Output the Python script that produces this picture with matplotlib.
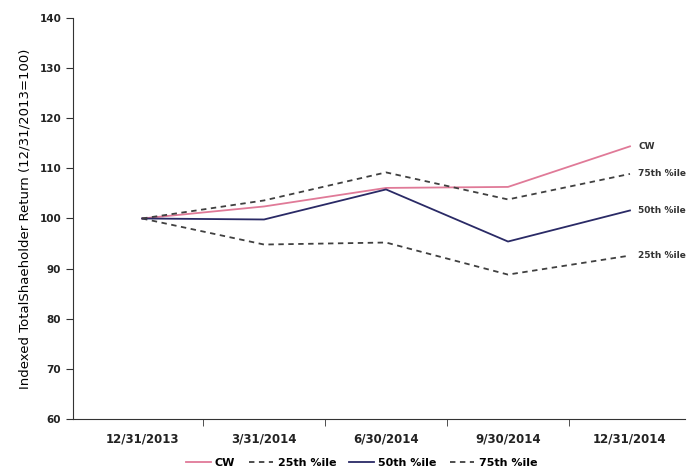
import matplotlib.pyplot as plt
import numpy as np

dates = ["12/31/2013", "3/31/2014", "6/30/2014", "9/30/2014", "12/31/2014"]
cw = [100, 102.4, 106.1, 106.3, 114.4]
p25 = [100, 94.8, 95.2, 88.8, 92.6]
p50 = [100, 99.8, 105.8, 95.4, 101.6]
p75 = [100, 103.6, 109.2, 103.8, 108.9]
end_labels = ["CW", "75th %ile", "50th %ile", "25th %ile"]

fig = plt.figure(figsize=(6.89, 4.76), dpi=100)
ax = fig.add_axes([0.106, 0.12, 0.888, 0.842])

x = np.arange(len(dates))
ax.plot(x, cw, color="#e07a98", lw=1.3, label="CW")
ax.plot(x, p25, color="#404040", lw=1.3, ls=(0, (3, 2.5)), label="25th %ile")
ax.plot(x, p50, color="#2a2a66", lw=1.3, label="50th %ile")
ax.plot(x, p75, color="#404040", lw=1.3, ls=(0, (3, 2.5)), label="75th %ile")

# labels at the end of each line
for lab, s in zip(end_labels, [cw, p75, p50, p25]):
    ax.annotate(lab, (x[-1], s[-1]), xytext=(6, 0), textcoords="offset points",
                va="center", fontsize=6.5, fontweight="bold", color="#333333")

ax.set_xlim(-0.566, 4.45)
ax.set_ylim(60, 140)
ax.set_yticks(np.arange(60, 141, 10))
ax.set_xticks(x)
ax.set_xticklabels(dates, fontsize=8.5, fontweight="bold", color="#222222")
ax.set_xticks(x[:-1] + 0.5, minor=True)
ax.tick_params(axis="x", which="major", length=0, pad=10)
ax.tick_params(axis="x", which="minor", length=5, direction="out", color="#333333")
ax.tick_params(axis="y", length=5, direction="out", labelsize=7.5, color="#333333")
for t in ax.get_yticklabels():
    t.set_fontweight("bold")
    t.set_color("#222222")

ax.spines["top"].set_visible(False)
ax.spines["right"].set_visible(False)
ax.spines["left"].set_color("#333333")
ax.spines["bottom"].set_color("#333333")

ax.set_ylabel("Indexed TotalShaeholder Return (12/31/2013=100)", fontsize=9.5, labelpad=6)

fig.legend(loc="lower center", bbox_to_anchor=(0.525, -0.005), ncol=4, frameon=False,
           handlelength=2.2, columnspacing=1.2, handletextpad=0.4,
           prop={"weight": "bold", "size": 8})

fig.savefig("out.png", dpi=100)
